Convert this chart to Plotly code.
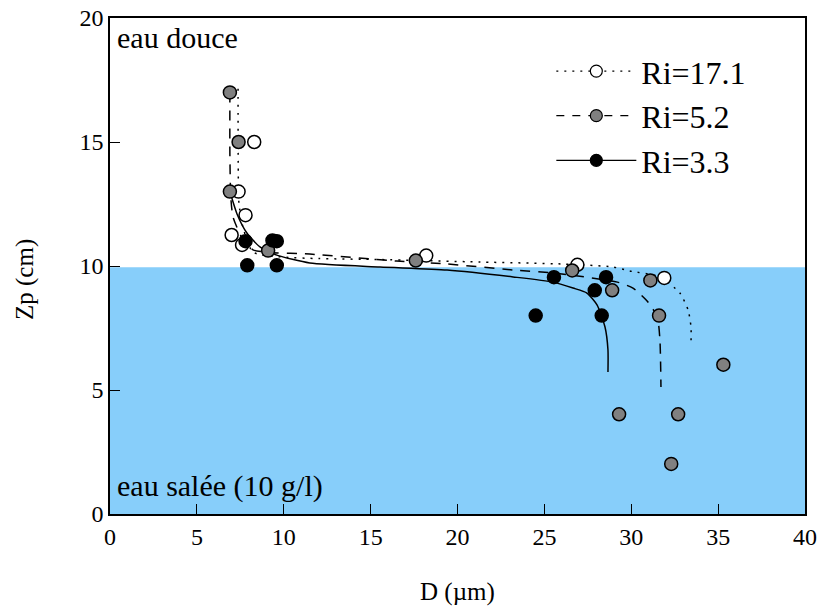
import plotly.graph_objects as go

# --- measured data points ---
ri17_D = [8.3, 7.4, 7.8, 7.0, 7.6, 18.2, 26.9, 31.9]
ri17_Z = [15.0, 13.0, 12.05, 11.25, 10.85, 10.42, 10.05, 9.52]

ri52_D = [6.9, 7.4, 6.9, 9.1, 17.6, 26.6, 31.1, 28.9, 31.6, 35.3, 29.3, 32.7, 32.3]
ri52_Z = [17.0, 15.0, 13.0, 10.62, 10.22, 9.82, 9.42, 9.02, 8.0, 6.02, 4.02, 4.02, 2.02]

ri33_D = [7.8, 9.35, 9.6, 7.9, 9.6, 25.55, 28.55, 27.9, 24.5, 28.3]
ri33_Z = [11.0, 11.03, 11.0, 10.03, 10.03, 9.55, 9.55, 9.02, 8.0, 8.0]

# --- model curves ---
c17_D = [7.37, 7.38, 7.42, 7.65, 8.23, 9.96, 12.0, 15.54, 21.3, 26.07, 28.95, 29.9, 31.65, 32.8, 33.27, 33.44, 33.44]
c17_Z = [17.15, 14.0, 12.54, 11.57, 10.56, 10.36, 10.3, 10.26, 10.16, 10.08, 9.96, 9.8, 9.56, 8.91, 8.23, 7.54, 6.94]

c52_D = [6.9, 6.9, 6.95, 7.08, 7.6, 8.23, 9.1, 11.5, 16.5, 19.4, 23.2, 25.5, 29.2, 30.1, 30.96, 31.5, 31.65, 31.71]
c52_Z = [17.0, 14.5, 12.8, 11.98, 11.13, 10.65, 10.55, 10.48, 10.2, 10.08, 9.84, 9.72, 9.35, 9.11, 8.55, 7.94, 7.02, 5.12]

c33_D = [6.96, 7.31, 7.88, 8.63, 9.6, 11.5, 15.54, 19.4, 23.2, 25.5, 26.65, 27.45, 28.03, 28.49, 28.66, 28.66]
c33_Z = [12.86, 12.1, 11.33, 10.77, 10.44, 10.12, 9.96, 9.84, 9.56, 9.35, 9.11, 8.91, 8.43, 7.54, 6.61, 5.73]

x_ticks = [0, 5, 10, 15, 20, 25, 30, 35, 40]
y_ticks = [0, 5, 10, 15, 20]

FONT = "Liberation Serif, Times New Roman, serif"

fig = go.Figure()

# curves
fig.add_trace(go.Scatter(x=c17_D, y=c17_Z, mode="lines", line=dict(color="black", width=1.5, dash="2px,6px", shape="spline", smoothing=0.6), showlegend=False, hoverinfo="skip"))
fig.add_trace(go.Scatter(x=c52_D, y=c52_Z, mode="lines", line=dict(color="black", width=1.5, dash="10px,8px", shape="spline", smoothing=0.6), showlegend=False, hoverinfo="skip"))
fig.add_trace(go.Scatter(x=c33_D, y=c33_Z, mode="lines", line=dict(color="black", width=1.5, shape="spline", smoothing=0.6), showlegend=False, hoverinfo="skip"))

mk = dict(size=13, line=dict(color="black", width=1.5))
fig.add_trace(go.Scatter(x=ri17_D, y=ri17_Z, mode="markers", marker=dict(color="white", **mk), showlegend=False))
fig.add_trace(go.Scatter(x=ri52_D, y=ri52_Z, mode="markers", marker=dict(color="#808080", **mk), showlegend=False))
fig.add_trace(go.Scatter(x=ri33_D, y=ri33_Z, mode="markers", marker=dict(color="black", **mk), showlegend=False))

# legend entries
lmk = dict(size=12, line=dict(color="black", width=1.2))
fig.add_trace(go.Scatter(x=[None], y=[None], mode="lines+markers", name="Ri=17.1", legendgroup="a",
                         line=dict(color="black", width=1.2, dash="2px,6px"), marker=dict(color="white", **lmk)))
fig.add_trace(go.Scatter(x=[None], y=[None], mode="lines+markers", name="Ri=5.2", legendgroup="b",
                         line=dict(color="black", width=1.2, dash="8px,8px"), marker=dict(color="#808080", **lmk)))
fig.add_trace(go.Scatter(x=[None], y=[None], mode="lines+markers", name="Ri=3.3", legendgroup="c",
                         line=dict(color="black", width=1.2), marker=dict(color="black", **lmk)))

fig.update_layout(
    width=822, height=610,
    margin=dict(l=110, r=17, t=18, b=96),
    paper_bgcolor="white", plot_bgcolor="white",
    font=dict(family=FONT, size=24, color="black"),
    shapes=[dict(type="rect", xref="x", yref="y", x0=0, x1=40, y0=0, y1=9.95,
                 fillcolor="#87CEFA", line=dict(width=0), layer="below")],
    xaxis=dict(range=[0, 40], tickvals=x_ticks, ticks="inside", ticklen=10, tickcolor="black",
               showgrid=False, zeroline=False, showline=True, linecolor="black", linewidth=1.5, mirror=True,
               automargin=False, tickfont=dict(size=24), ticklabeloverflow="allow"),
    yaxis=dict(range=[0, 20], tickvals=y_ticks, ticks="inside", ticklen=10, tickcolor="black",
               showgrid=False, zeroline=False, showline=True, linecolor="black", linewidth=1.5, mirror=True,
               automargin=False, tickfont=dict(size=24), ticklabeloverflow="allow"),
    legend=dict(x=0.635, y=0.948, xanchor="left", yanchor="top", bgcolor="rgba(0,0,0,0)",
                font=dict(size=32, family=FONT), tracegroupgap=0, itemwidth=80),
    annotations=[
        dict(text="eau douce", xref="paper", yref="paper", x=0.0, y=0.998, xanchor="left", yanchor="top",
             xshift=5, showarrow=False, font=dict(size=30, family=FONT)),
        dict(text="eau salée (10 g/l)", xref="paper", yref="paper", x=0.0, y=0.018, xanchor="left", yanchor="bottom",
             xshift=5, showarrow=False, font=dict(size=30, family=FONT)),
        dict(text="D (µm)", xref="paper", yref="paper", x=0.5, y=0, xanchor="center", yanchor="middle",
             yshift=-78, showarrow=False, font=dict(size=25, family=FONT)),
        dict(text="Zp (cm)", xref="paper", yref="paper", x=0, y=0.5, xanchor="center", yanchor="middle",
             xshift=-85, yshift=-14, textangle=-90, showarrow=False, font=dict(size=25, family=FONT)),
    ],
)

fig.write_html("out.html", config={"displayModeBar": False},
               post_script="document.body.style.margin='0';document.body.style.overflow='hidden';")
